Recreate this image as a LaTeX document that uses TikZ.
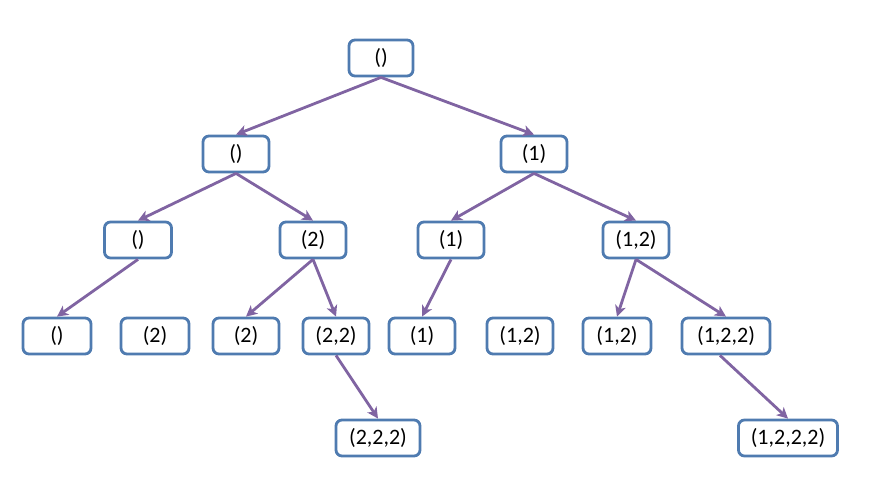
\documentclass[tikz,border=0pt]{standalone}
\usepackage{fontspec}
\setmainfont{Carlito}
\usetikzlibrary{arrows.meta}
\definecolor{boxblue}{HTML}{4F7BB0}
\definecolor{arrowpurple}{HTML}{8064A2}
\begin{document}
\begin{tikzpicture}[x=1pt,y=-1pt,
  tn/.style={draw=boxblue,line width=2.8pt,rounded corners=6pt,fill=white,
    minimum height=36pt,inner sep=0pt,font=\fontsize{22}{24}\selectfont},
  edge/.style={draw=arrowpurple,line width=2.8pt,-{Stealth[length=11pt,width=11pt,inset=3pt]}}]
\useasboundingbox (0,0) rectangle (880,502);
\node[tn,minimum width=64pt] (r) at (381,58) {()};
\node[tn,minimum width=66pt] (a) at (236,154) {()};
\node[tn,minimum width=66pt] (b) at (534,154) {(1)};
\node[tn,minimum width=67pt] (aa) at (138,240) {()};
\node[tn,minimum width=66pt] (ab) at (313,240) {(2)};
\node[tn,minimum width=66pt] (ba) at (451,240) {(1)};
\node[tn,minimum width=66pt] (bb) at (636,240) {(1,2)};
\node[tn,minimum width=68pt] (c1) at (57,336) {()};
\node[tn,minimum width=68pt] (c2) at (155,336) {(2)};
\node[tn,minimum width=66pt] (c3) at (246,336) {(2)};
\node[tn,minimum width=66pt] (c4) at (336,336) {(2,2)};
\node[tn,minimum width=66pt] (c5) at (422,336) {(1)};
\node[tn,minimum width=66pt] (c6) at (520,336) {(1,2)};
\node[tn,minimum width=68pt] (c7) at (617,336) {(1,2)};
\node[tn,minimum width=88pt] (c8) at (726,336) {(1,2,2)};
\node[tn,minimum width=84pt] (d1) at (378,438) {(2,2,2)};
\node[tn,minimum width=99pt] (d2) at (788,438) {(1,2,2,2)};
\draw[edge] (r.south) -- (a.north);
\draw[edge] (r.south) -- (b.north);
\draw[edge] (a.south) -- (aa.north);
\draw[edge] (a.south) -- (ab.north);
\draw[edge] (b.south) -- (ba.north);
\draw[edge] (b.south) -- (bb.north);
\draw[edge] (aa.south) -- (c1.north);
\draw[edge] (ab.south) -- (c3.north);
\draw[edge] (ab.south) -- (c4.north);
\draw[edge] (ba.south) -- (c5.north);
\draw[edge] (bb.south) -- (c7.north);
\draw[edge] (bb.south) -- (c8.north);
\draw[edge] (c4.south) -- (d1.north);
\draw[edge] ([xshift=-6pt]c8.south) -- (d2.north);
\end{tikzpicture}
\end{document}
